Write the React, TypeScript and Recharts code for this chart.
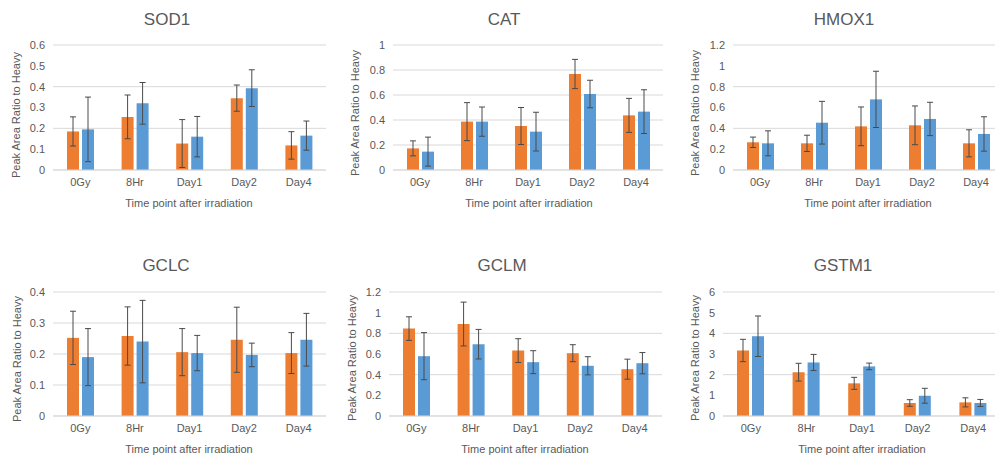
import React from "react"
import { BarChart, Bar, XAxis, YAxis, CartesianGrid, ErrorBar } from "recharts"

const categories = ["0Gy", "8Hr", "Day1", "Day2", "Day4"]

const sod1Orange = [0.185, 0.255, 0.127, 0.345, 0.118]
const sod1OrangeErr = [0.07, 0.105, 0.115, 0.063, 0.066]
const sod1Blue = [0.195, 0.32, 0.16, 0.393, 0.165]
const sod1BlueErr = [0.155, 0.1, 0.097, 0.088, 0.07]
const sod1Ticks = [0, 0.1, 0.2, 0.3, 0.4, 0.5, 0.6]

const catOrange = [0.173, 0.387, 0.352, 0.768, 0.437]
const catOrangeErr = [0.06, 0.152, 0.148, 0.117, 0.136]
const catBlue = [0.147, 0.387, 0.307, 0.608, 0.467]
const catBlueErr = [0.116, 0.117, 0.155, 0.11, 0.175]
const catTicks = [0, 0.2, 0.4, 0.6, 0.8, 1]

const hmox1Orange = [0.266, 0.256, 0.419, 0.429, 0.256]
const hmox1OrangeErr = [0.05, 0.078, 0.186, 0.186, 0.13]
const hmox1Blue = [0.256, 0.454, 0.678, 0.49, 0.346]
const hmox1BlueErr = [0.12, 0.205, 0.27, 0.16, 0.165]
const hmox1Ticks = [0, 0.2, 0.4, 0.6, 0.8, 1, 1.2]

const gclcOrange = [0.252, 0.258, 0.206, 0.246, 0.203]
const gclcOrangeErr = [0.086, 0.094, 0.076, 0.105, 0.066]
const gclcBlue = [0.19, 0.24, 0.203, 0.197, 0.246]
const gclcBlueErr = [0.092, 0.133, 0.057, 0.038, 0.085]
const gclcTicks = [0, 0.1, 0.2, 0.3, 0.4]

const gclmOrange = [0.846, 0.89, 0.633, 0.608, 0.453]
const gclmOrangeErr = [0.114, 0.212, 0.115, 0.082, 0.097]
const gclmBlue = [0.579, 0.695, 0.521, 0.486, 0.511]
const gclmBlueErr = [0.228, 0.143, 0.111, 0.088, 0.103]
const gclmTicks = [0, 0.2, 0.4, 0.6, 0.8, 1, 1.2]

const gstm1Orange = [3.17, 2.12, 1.58, 0.63, 0.66]
const gstm1OrangeErr = [0.54, 0.43, 0.29, 0.16, 0.22]
const gstm1Blue = [3.86, 2.59, 2.4, 0.98, 0.63]
const gstm1BlueErr = [0.98, 0.39, 0.16, 0.36, 0.17]
const gstm1Ticks = [0, 1, 2, 3, 4, 5, 6]

const FONT = "'Liberation Sans', Arial, sans-serif"
const TEXT = "#595959"
const GRID = "#D9D9D9"
const ORANGE = "#ED7D31"
const BLUE = "#5B9BD5"
const ERR = "#4a4a4a"

function rows(o: number[], oe: number[], b: number[], be: number[]) {
  return categories.map((cat, i) => ({ cat, o: o[i], oe: oe[i], b: b[i], be: be[i] }))
}

interface PanelProps {
  title: string
  data: any[]
  ticks: number[]
  plot: [number, number, number, number]
  titlePos: [number, number]
  yLabelPos: [number, number]
  xLabelPos: [number, number]
}

const AXIS_W = 50
const AXIS_H = 30

function Panel({ title, data, ticks, plot, titlePos, yLabelPos, xLabelPos }: PanelProps) {
  const [x0, x1, y0, y1] = plot
  const left = x0 - AXIS_W
  const top = y0 - 10
  const width = x1 - x0 + AXIS_W + 5
  const height = y1 - y0 + 10 + AXIS_H
  const label: React.CSSProperties = {
    position: "absolute",
    color: TEXT,
    fontFamily: FONT,
    whiteSpace: "nowrap",
    lineHeight: 1,
  }
  return (
    <>
      <div style={{ ...label, left: titlePos[0], top: titlePos[1], fontSize: 17, transform: "translate(-50%, -50%)" }}>
        {title}
      </div>
      <div
        style={{
          ...label,
          left: yLabelPos[0],
          top: yLabelPos[1],
          fontSize: 11,
          transform: "translate(-50%, -50%) rotate(-90deg)",
        }}
      >
        Peak Area Ratio to Heavy
      </div>
      <div style={{ ...label, left: xLabelPos[0], top: xLabelPos[1], fontSize: 11, transform: "translate(-50%, -50%)" }}>
        Time point after irradiation
      </div>
      <div style={{ position: "absolute", left, top }}>
        <BarChart
          width={width}
          height={height}
          data={data}
          margin={{ top: 10, right: 5, left: 0, bottom: 0 }}
          barSize={12}
          barGap={3}
        >
          <CartesianGrid vertical={false} stroke={GRID} />
          <XAxis
            dataKey="cat"
            height={AXIS_H}
            axisLine={{ stroke: GRID }}
            tickLine={false}
            tick={{ fill: TEXT, fontSize: 11, fontFamily: FONT }}
          />
          <YAxis
            width={AXIS_W}
            domain={[ticks[0], ticks[ticks.length - 1]]}
            ticks={ticks}
            axisLine={false}
            tickLine={false}
            tick={{ fill: TEXT, fontSize: 11, fontFamily: FONT }}
          />
          <Bar dataKey="o" fill={ORANGE} isAnimationActive={false}>
            <ErrorBar dataKey="oe" width={3} stroke={ERR} strokeWidth={1} />
          </Bar>
          <Bar dataKey="b" fill={BLUE} isAnimationActive={false}>
            <ErrorBar dataKey="be" width={3} stroke={ERR} strokeWidth={1} />
          </Bar>
        </BarChart>
      </div>
    </>
  )
}

export default function App() {
  return (
    <div
      style={{
        position: "fixed",
        left: 0,
        top: 0,
        width: 995,
        height: 455,
        background: "#fff",
        overflow: "hidden",
      }}
    >
      <Panel
        title="SOD1"
        data={rows(sod1Orange, sod1OrangeErr, sod1Blue, sod1BlueErr)}
        ticks={sod1Ticks}
        plot={[53, 326, 45, 170]}
        titlePos={[167, 19]}
        yLabelPos={[16, 115]}
        xLabelPos={[189, 203]}
      />
      <Panel
        title="CAT"
        data={rows(catOrange, catOrangeErr, catBlue, catBlueErr)}
        ticks={catTicks}
        plot={[393, 663, 45, 170]}
        titlePos={[504, 19]}
        yLabelPos={[355, 113]}
        xLabelPos={[529, 203]}
      />
      <Panel
        title="HMOX1"
        data={rows(hmox1Orange, hmox1OrangeErr, hmox1Blue, hmox1BlueErr)}
        ticks={hmox1Ticks}
        plot={[733, 1003, 45, 170]}
        titlePos={[844, 19]}
        yLabelPos={[695, 113]}
        xLabelPos={[868, 203]}
      />
      <Panel
        title="GCLC"
        data={rows(gclcOrange, gclcOrangeErr, gclcBlue, gclcBlueErr)}
        ticks={gclcTicks}
        plot={[53, 326, 292, 416]}
        titlePos={[166, 265]}
        yLabelPos={[17, 359]}
        xLabelPos={[189, 449]}
      />
      <Panel
        title="GCLM"
        data={rows(gclmOrange, gclmOrangeErr, gclmBlue, gclmBlueErr)}
        ticks={gclmTicks}
        plot={[389, 662, 292, 416]}
        titlePos={[502, 265]}
        yLabelPos={[352, 358]}
        xLabelPos={[525, 449]}
      />
      <Panel
        title="GSTM1"
        data={rows(gstm1Orange, gstm1OrangeErr, gstm1Blue, gstm1BlueErr)}
        ticks={gstm1Ticks}
        plot={[723, 1001, 292, 416]}
        titlePos={[843, 265]}
        yLabelPos={[695, 358]}
        xLabelPos={[862, 449]}
      />
    </div>
  )
}
